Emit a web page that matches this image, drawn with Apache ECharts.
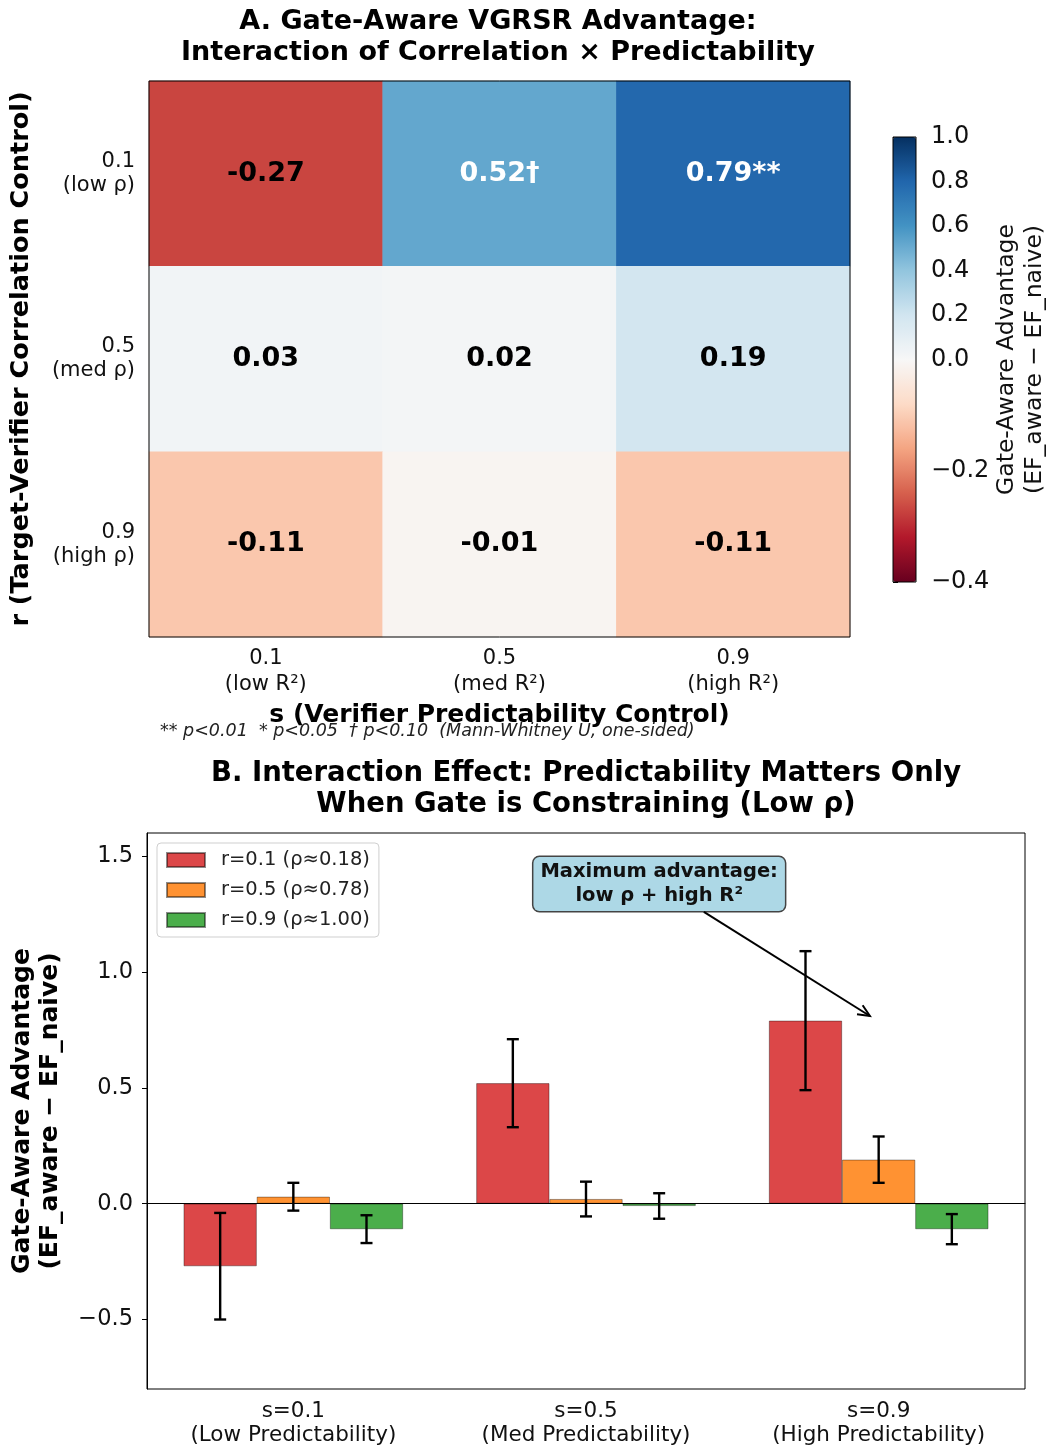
<!DOCTYPE html>
<html>
<head>
<meta charset="utf-8">
<script src="https://cdn.jsdelivr.net/npm/echarts@6/dist/echarts.min.js"></script>
<style>
  html, body { margin: 0; padding: 0; background: #fff; }
  #main { width: 1052px; height: 1451px; }
</style>
</head>
<body>
<div id="main"></div>
<script>
// panel A: heatmap
const sLabels = ['0.1\n(low R²)', '0.5\n(med R²)', '0.9\n(high R²)'];
const rLabels = ['0.1\n(low ρ)', '0.5\n(med ρ)', '0.9\n(high ρ)'];
// advantage per r row, columns = s
const adv_r01 = [-0.27, 0.52, 0.79];
const adv_r05 = [0.03, 0.02, 0.19];
const adv_r09 = [-0.11, -0.01, -0.11];
const sig_r01 = ['', '†', '**'];
const sig_r05 = ['', '', ''];
const sig_r09 = ['', '', ''];
// error bar half widths
const err_r01 = [0.23, 0.19, 0.30];
const err_r05 = [0.06, 0.075, 0.10];
const err_r09 = [0.06, 0.055, 0.065];

const cbTicks = [-0.4, -0.2, 0.0, 0.2, 0.4, 0.6, 0.8, 1.0];
const vmin = -0.4, vcenter = 0, vmax = 1.0;

// panel B
const barCats = ['s=0.1\n(Low Predictability)', 's=0.5\n(Med Predictability)', 's=0.9\n(High Predictability)'];
const legendNames = ['r=0.1 (ρ≈0.18)', 'r=0.5 (ρ≈0.78)', 'r=0.9 (ρ≈1.00)'];
const yTicksB = [-0.5, 0.0, 0.5, 1.0, 1.5];

const advRows = [adv_r01, adv_r05, adv_r09];
const sigRows = [sig_r01, sig_r05, sig_r09];
const errRows = [err_r01, err_r05, err_r09];
const barColors = ['#dc4748', '#ff9232', '#4bae4b'];
const RdBu = ['#67001f','#b2182b','#d6604d','#f4a582','#fddbc7','#f7f7f7','#d1e5f0','#92c5de','#4393c3','#2166ac','#053061'];
const FONT = 'DejaVu Sans';

function norm(v) {
  return v < vcenter ? 0.5 * (v - vmin) / (vcenter - vmin) : 0.5 + 0.5 * (v - vcenter) / (vmax - vcenter);
}
function unnorm(n) {
  return n < 0.5 ? vmin + (n / 0.5) * (vcenter - vmin) : vcenter + ((n - 0.5) / 0.5) * (vmax - vcenter);
}
function minus(v, d) {
  const s = Math.abs(v).toFixed(d);
  return v < -1e-9 ? '\u2212' + s : s;
}

const heatData = [];
advRows.forEach((row, ri) => {
  row.forEach((v, ci) => {
    heatData.push({
      value: [ci, ri, v, norm(v)],
      label: { color: v > 0.4 ? '#fff' : '#000' },
      sig: sigRows[ri][ci]
    });
  });
});

const errData = [];
errRows.forEach((row, k) => {
  row.forEach((e, ci) => errData.push([ci, advRows[k][ci], e, k]));
});

const chart = echarts.init(document.getElementById('main'), null, { renderer: 'canvas' });

const option = {
  animation: false,
  backgroundColor: '#fff',
  textStyle: { fontFamily: FONT },
  grid: [
    { left: 147, top: 81, width: 703, height: 556, show: true, borderColor: '#000', borderWidth: 1, z: 10 },
    { left: 147, top: 833, width: 878, height: 556, show: true, borderColor: '#000', borderWidth: 1, z: 10 },
    { left: 893, top: 137, width: 23, height: 445, show: true, borderColor: '#000', borderWidth: 1, z: 10 }
  ],
  xAxis: [
    {
      gridIndex: 0, type: 'category', data: sLabels,
      axisLine: { show: false },
      axisTick: { alignWithLabel: true, length: 5, lineStyle: { color: '#000' } },
      axisLabel: { color: '#111', fontSize: 21, lineHeight: 26, margin: 9, fontFamily: FONT },
      splitLine: { show: false },
      name: 's (Verifier Predictability Control)', nameLocation: 'middle', nameGap: 66,
      nameTextStyle: { fontSize: 25, fontWeight: 'bold', color: '#000', fontFamily: FONT }
    },
    {
      gridIndex: 1, type: 'category', data: barCats,
      axisLine: { show: true, lineStyle: { color: '#000' } },
      axisTick: { alignWithLabel: true, length: 5, lineStyle: { color: '#000' } },
      axisLabel: { color: '#111', fontSize: 21.5, lineHeight: 24, margin: 10, fontFamily: FONT },
      splitLine: { show: false }
    },
    { gridIndex: 2, type: 'value', show: false, min: 0, max: 1 }
  ],
  yAxis: [
    {
      gridIndex: 0, type: 'category', data: rLabels, inverse: true,
      axisLine: { show: false },
      axisTick: { alignWithLabel: true, length: 5, lineStyle: { color: '#000' } },
      axisLabel: { color: '#111', fontSize: 21, lineHeight: 24, margin: 14, fontFamily: FONT },
      splitLine: { show: false },
      name: 'r (Target-Verifier Correlation Control)', nameLocation: 'middle', nameGap: 115, nameRotate: 90,
      nameTextStyle: { fontSize: 25.5, fontWeight: 'bold', color: '#000', fontFamily: FONT }
    },
    {
      gridIndex: 1, type: 'value', min: -0.8, max: 1.6,
      axisLine: { show: true, lineStyle: { color: '#000' } },
      axisTick: { show: true, length: 5, customValues: yTicksB, lineStyle: { color: '#000' } },
      axisLabel: { color: '#111', fontSize: 22.5, margin: 14, customValues: yTicksB, formatter: v => minus(v, 1), fontFamily: FONT },
      splitLine: { show: false },
      name: 'Gate-Aware Advantage\n(EF_aware \u2212 EF_naive)', nameLocation: 'middle', nameGap: 83, nameRotate: 90,
      nameTextStyle: { fontSize: 25, fontWeight: 'bold', color: '#000', lineHeight: 28, fontFamily: FONT }
    },
    {
      gridIndex: 2, type: 'value', min: 0, max: 1, position: 'right',
      axisLine: { show: false },
      axisTick: { show: true, length: 5, customValues: cbTicks.map(norm), lineStyle: { color: '#000' } },
      axisLabel: { color: '#111', fontSize: 24, margin: 15, customValues: cbTicks.map(norm), formatter: n => minus(unnorm(n), 1), fontFamily: FONT },
      splitLine: { show: false },
      name: 'Gate-Aware Advantage\n(EF_aware \u2212 EF_naive)', nameLocation: 'middle', nameGap: 76, nameRotate: 90,
      nameTextStyle: { fontSize: 23.5, color: '#111', lineHeight: 28, fontFamily: FONT }
    }
  ],
  visualMap: {
    type: 'continuous',
    seriesIndex: 0,
    dimension: 3,
    min: 0, max: 1,
    calculable: false,
    hoverLink: false,
    text: null,
    showLabel: false,
    orient: 'vertical',
    left: 893, top: 137,
    padding: 0,
    itemWidth: 23, itemHeight: 445,
    inRange: { color: RdBu }
  },
  legend: {
    data: legendNames,
    orient: 'vertical',
    left: 157, top: 843,
    padding: [7, 9, 7, 9],
    backgroundColor: '#fff',
    borderColor: '#cfcfcf', borderWidth: 1, borderRadius: 4,
    itemWidth: 38, itemHeight: 14, itemGap: 10,
    icon: 'rect',
    textStyle: { fontSize: 19.5, color: '#222', padding: [0, 0, 0, 11], fontFamily: FONT }
  },
  series: [
    {
      type: 'heatmap', xAxisIndex: 0, yAxisIndex: 0,
      data: heatData,
      label: {
        show: true, fontSize: 27, fontWeight: 'bold', fontFamily: FONT,
        formatter: p => p.data.value[2].toFixed(2) + p.data.sig
      },
      emphasis: { disabled: true }
    },
    ...legendNames.map((name, k) => ({
      type: 'bar', name, xAxisIndex: 1, yAxisIndex: 1,
      data: advRows[k],
      barGap: '0%', barCategoryGap: '25%',
      itemStyle: { color: barColors[k], borderColor: 'rgba(0,0,0,0.45)', borderWidth: 0.8 },
      markLine: k === 0 ? {
        silent: true, symbol: 'none', label: { show: false },
        lineStyle: { color: '#000', width: 1.2, type: 'solid' },
        data: [{ yAxis: 0 }]
      } : undefined,
      z: 2
    })),
    {
      type: 'custom', xAxisIndex: 1, yAxisIndex: 1,
      data: errData,
      encode: { x: 0, y: 1 },
      z: 5,
      silent: true,
      renderItem: (params, api) => {
        const x = api.value(0), v = api.value(1), e = api.value(2), k = api.value(3);
        const band = api.size([1, 0])[0];
        const cx = api.coord([x, v])[0] + (k - 1) * band * 0.25;
        const top = api.coord([x, v + e])[1];
        const bot = api.coord([x, v - e])[1];
        const cap = 6;
        const st = { stroke: '#000', lineWidth: 2.4 };
        return {
          type: 'group',
          children: [
            { type: 'line', shape: { x1: cx, y1: top, x2: cx, y2: bot }, style: st },
            { type: 'line', shape: { x1: cx - cap, y1: top, x2: cx + cap, y2: top }, style: st },
            { type: 'line', shape: { x1: cx - cap, y1: bot, x2: cx + cap, y2: bot }, style: st }
          ]
        };
      }
    },
    { type: 'line', xAxisIndex: 2, yAxisIndex: 2, data: [] }
  ]
};

chart.setOption(option);

// titles, footnote, annotation
const p0 = chart.convertToPixel({ xAxisIndex: 1, yAxisIndex: 1 }, [0, 0]);
const p1 = chart.convertToPixel({ xAxisIndex: 1, yAxisIndex: 1 }, [1, 1]);
const px = x => p0[0] + x * (p1[0] - p0[0]);
const py = y => p0[1] + y * (p1[1] - p0[1]);
const boxC = [px(1.25), py(1.38)];
const tip = [px(1.97), py(0.81)];
const boxHalfH = 28;
const t = boxHalfH / (tip[1] - boxC[1]);
const start = [boxC[0] + t * (tip[0] - boxC[0]), boxC[1] + boxHalfH];
const ang = Math.atan2(tip[1] - start[1], tip[0] - start[0]);
const hl = 13, ha = 0.42;
const h1 = [tip[0] - hl * Math.cos(ang - ha), tip[1] - hl * Math.sin(ang - ha)];
const h2 = [tip[0] - hl * Math.cos(ang + ha), tip[1] - hl * Math.sin(ang + ha)];

chart.setOption({
  graphic: [
    {
      type: 'text', x: 498, y: 6, z: 20,
      style: {
        text: 'A. Gate-Aware VGRSR Advantage:\nInteraction of Correlation × Predictability',
        textAlign: 'center', textVerticalAlign: 'top',
        font: 'bold 27px "DejaVu Sans"', lineHeight: 31, fill: '#000'
      }
    },
    {
      type: 'text', x: 586, y: 758, z: 20,
      style: {
        text: 'B. Interaction Effect: Predictability Matters Only\nWhen Gate is Constraining (Low ρ)',
        textAlign: 'center', textVerticalAlign: 'top',
        font: 'bold 27.5px "DejaVu Sans"', lineHeight: 31, fill: '#000'
      }
    },
    {
      type: 'text', x: 160, y: 722, z: 20,
      style: {
        text: '** p<0.01  * p<0.05  † p<0.10  (Mann-Whitney U, one-sided)',
        textVerticalAlign: 'top',
        font: 'italic 17.5px "DejaVu Sans"', fill: '#222'
      }
    },
    {
      type: 'text', x: boxC[0], y: boxC[1], z: 30,
      style: {
        text: 'Maximum advantage:\nlow ρ + high R²',
        textAlign: 'center', textVerticalAlign: 'middle',
        font: 'bold 19.5px "DejaVu Sans"', lineHeight: 24, fill: '#111',
        backgroundColor: '#add8e6', borderColor: '#444', borderWidth: 1.5, borderRadius: 6,
        padding: [3, 7, 3, 7]
      }
    },
    {
      type: 'polyline', z: 30,
      shape: { points: [start, tip] },
      style: { stroke: '#000', lineWidth: 2, fill: null }
    },
    {
      type: 'polyline', z: 30,
      shape: { points: [h1, tip, h2] },
      style: { stroke: '#000', lineWidth: 2, fill: null }
    }
  ]
});
</script>
</body>
</html>
